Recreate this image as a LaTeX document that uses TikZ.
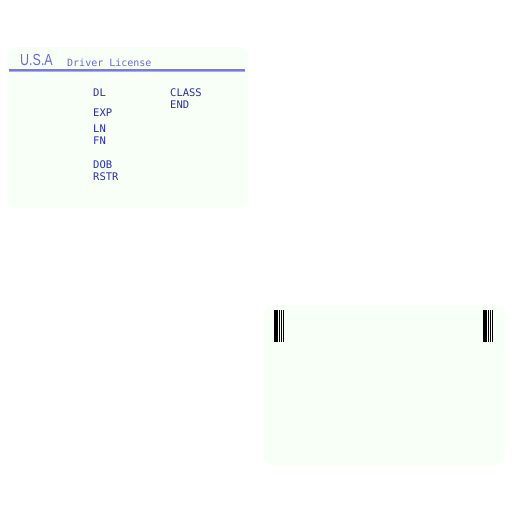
\documentclass[tikz,border=0pt]{standalone}
\usepackage{fontspec}
\usepackage{graphicx}
\usepackage{xcolor}
\usepackage{tikz}
\usetikzlibrary{positioning,calc}
\newfontfamily\monofont{DejaVu Sans Mono}
\newfontfamily\headfont{Liberation Sans}
\definecolor{cardfill}{RGB}{248,255,246}
\definecolor{headblue}{RGB}{104,104,226}
\definecolor{linedark}{RGB}{120,120,232}
\definecolor{linelight}{RGB}{172,172,240}
\definecolor{fieldblue}{RGB}{44,44,170}
\tikzset{
    card/.style={fill=cardfill, rounded corners=9pt},
    field/.style={anchor=base west, inner sep=0pt, text=fieldblue, font=\monofont\fontsize{10.5pt}{10.5pt}\selectfont},
    bar/.style={fill=black}
}

\begin{document}
\begin{tikzpicture}[x=1pt, y=-1pt]
    \useasboundingbox (0,0) rectangle (512,512);

    % Front of the card
    \fill[card] (7,47) rectangle (248,208);

    % Header
    \node[anchor=base west, inner sep=0pt, text=headblue, font=\headfont\fontsize{16pt}{16pt}\selectfont] (country) at (20,65.7) {\scalebox{0.78}[1]{U.S.A}};
    \node[anchor=base west, inner sep=0pt, text=headblue, font=\monofont\fontsize{10pt}{10pt}\selectfont] (title) at (67,66.5) {Driver License};
    \fill[linedark] (9,69) rectangle (245,71);
    \fill[linelight] (9,71) rectangle (245,72.3);

    % Fields
    \node[field] (dl) at (93,96) {DL};
    \node[field] (class) at (170,96) {CLASS};
    \node[field] (end) at (170,108) {END};
    \node[field] (exp) at (93,116.5) {EXP};
    \node[field] (ln) at (93,132) {LN};
    \node[field] (fn) at (93,144) {FN};
    \node[field] (dob) at (93,168) {DOB};
    \node[field] (rstr) at (93,180) {RSTR};

    % Back of the card
    \fill[card] (264,305) rectangle (505,465);

    % Barcode marks
    \foreach \x in {274,483} {
        \fill[bar] (\x,310) rectangle (\x+4,342);
        \foreach \d in {5,7,9}
            \fill[bar] (\x+\d,310) rectangle (\x+\d+1,342);
    }
\end{tikzpicture}
\end{document}
